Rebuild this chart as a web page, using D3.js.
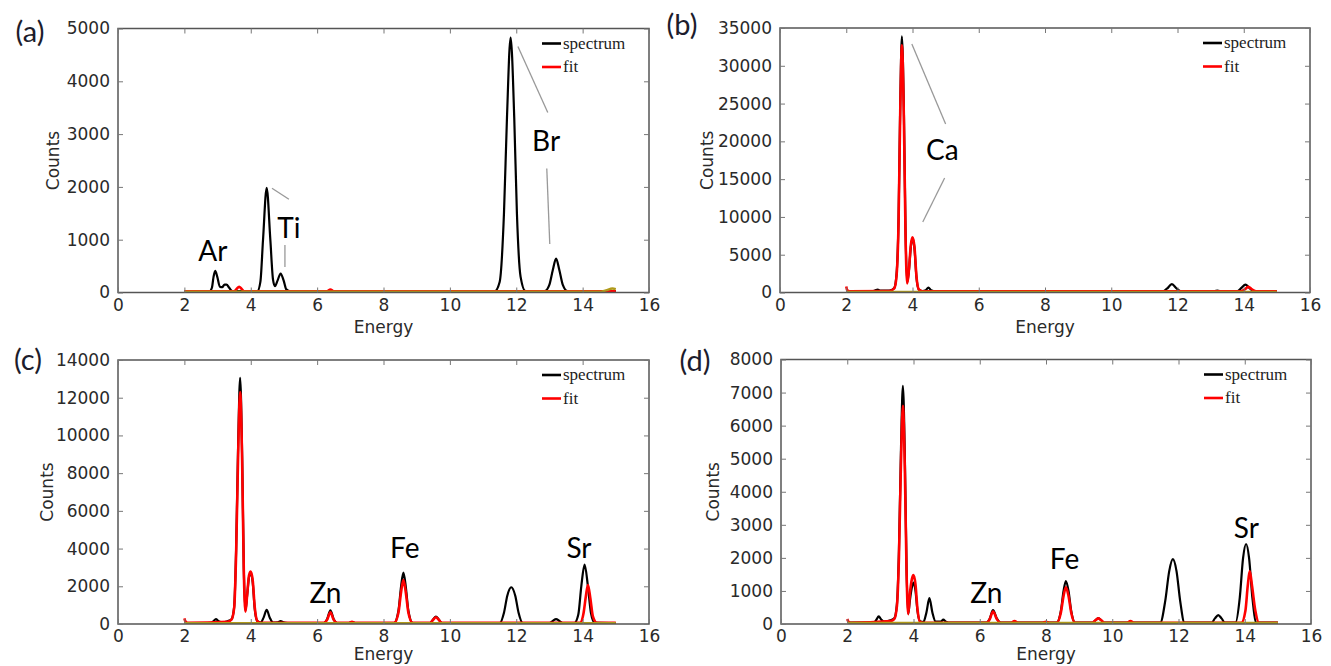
<!DOCTYPE html>
<html>
<head>
<meta charset="utf-8">
<script src="https://cdn.jsdelivr.net/npm/d3@7"></script>
<style>
  html, body { margin: 0; padding: 0; background: #fff; }
  svg { display: block; }
</style>
</head>
<body>
<svg id="chart" width="1331" height="666"></svg>
<script>
// ---------------- DATA ----------------
const energyTicks = [0, 2, 4, 6, 8, 10, 12, 14, 16];
const seriesNames = ["spectrum", "fit"];
const panelLabels = ["(a)", "(b)", "(c)", "(d)"];
const xTitle = "Energy";
const yTitle = "Counts";

const yTicksA = [0, 1000, 2000, 3000, 4000, 5000];
const yTicksB = [0, 5000, 10000, 15000, 20000, 25000, 30000, 35000];
const yTicksC = [0, 2000, 4000, 6000, 8000, 10000, 12000, 14000];
const yTicksD = [0, 1000, 2000, 3000, 4000, 5000, 6000, 7000, 8000];

// panel (a)
const specA = [[2.0,20],[2.75,20],[2.83,90],[2.88,300],[2.93,410],[2.99,300],[3.07,110],[3.14,100],[3.21,150],[3.27,150],[3.35,90],[3.45,25],
  [4.2,25],[4.29,200],[4.37,1000],[4.48,1980],[4.59,1000],[4.67,250],[4.73,120],[4.81,230],[4.9,360],[4.99,230],[5.07,60],[5.17,25],
  [11.35,25],[11.5,200],[11.63,1500],[11.72,3300],[11.83,4830],[11.94,3300],[12.02,1500],[12.13,300],[12.28,25],
  [12.85,25],[13.0,150],[13.1,420],[13.2,640],[13.3,420],[13.4,150],[13.55,25],[15.0,25]];
const fitA = [[2.0,25],[3.5,25],[3.58,70],[3.65,110],[3.72,70],[3.8,25],[6.3,25],[6.4,55],[6.5,25],[15.0,25]];
const bgA = [[2.0,15],[14.5,15],[14.7,40],[14.9,75],[15.0,65]];

// panel (b)
const specB = [[2.0,150],[2.8,150],[2.88,300],[2.95,380],[3.03,250],[3.3,250],[3.45,600],[3.52,2500],[3.58,10000],[3.63,25000],[3.68,33900],[3.74,24000],[3.79,8000],[3.84,1300],[3.89,2800],[3.95,6000],[4.0,7200],[4.06,5800],[4.12,2000],[4.19,400],[4.3,200],[4.4,300],[4.48,650],[4.56,300],[4.7,150],
  [11.55,150],[11.68,500],[11.83,1100],[11.98,500],[12.1,150],[13.05,150],[13.2,250],[13.35,150],[13.8,150],[13.93,600],[14.05,1050],[14.17,600],[14.3,150],[15.0,150]];
const fitB = [[2.0,800],[2.03,300],[2.1,150],[3.3,200],[3.45,550],[3.52,2300],[3.58,9500],[3.63,24000],[3.68,32700],[3.74,23000],[3.79,7500],[3.84,1200],[3.89,2900],[3.95,6300],[4.0,7300],[4.06,6000],[4.12,2100],[4.19,400],[4.3,150],
  [13.9,150],[14.03,400],[14.14,750],[14.25,400],[14.38,150],[15.0,150]];
const bgB = [[2.0,60],[15.0,60]];

// panel (c)
const specC = [[2.0,50],[2.8,50],[2.88,150],[2.95,260],[3.03,150],[3.15,90],[3.3,150],[3.42,250],[3.5,900],[3.56,4000],[3.62,9500],[3.68,13050],[3.74,9000],[3.79,3000],[3.84,700],[3.89,1500],[3.95,2500],[4.0,2700],[4.06,2200],[4.12,800],[4.2,150],[4.3,80],[4.39,350],[4.48,750],[4.57,350],[4.67,80],[4.82,90],[4.9,160],[4.98,90],[5.12,50],
  [6.2,50],[6.3,250],[6.4,720],[6.5,250],[6.6,50],[6.95,50],[7.05,100],[7.15,50],
  [8.32,50],[8.45,700],[8.53,2000],[8.6,2720],[8.67,2000],[8.75,700],[8.88,50],
  [9.4,50],[9.5,250],[9.58,390],[9.66,250],[9.76,50],
  [11.5,50],[11.63,600],[11.73,1500],[11.85,1950],[11.97,1500],[12.07,600],[12.2,50],
  [13.0,50],[13.1,160],[13.2,260],[13.3,160],[13.4,50],
  [13.75,50],[13.87,500],[13.96,2000],[14.06,3150],[14.16,2000],[14.25,600],[14.36,80],[15.0,50]];
const fitC = [[2.0,300],[2.03,150],[2.1,60],[3.3,120],[3.42,230],[3.5,850],[3.56,3800],[3.62,9000],[3.68,12300],[3.74,8700],[3.79,2900],[3.84,650],[3.89,1500],[3.95,2600],[4.0,2780],[4.06,2300],[4.12,900],[4.2,150],[4.3,60],
  [6.2,60],[6.3,220],[6.4,620],[6.5,220],[6.6,60],[6.95,60],[7.05,120],[7.15,60],
  [8.32,60],[8.45,600],[8.53,1700],[8.6,2330],[8.67,1700],[8.75,600],[8.88,60],
  [9.4,60],[9.5,230],[9.58,360],[9.66,230],[9.76,60],
  [13.92,60],[14.03,600],[14.1,1500],[14.16,2070],[14.23,1400],[14.31,400],[14.43,60],[15.0,60]];
const bgC = [[2.0,40],[15.0,40]];

// panel (d)
const specD = [[2.0,40],[2.8,40],[2.88,130],[2.95,230],[3.03,130],[3.12,70],[3.3,110],[3.42,170],[3.5,600],[3.56,2200],[3.62,5200],[3.68,7200],[3.74,5000],[3.79,1700],[3.84,300],[3.89,700],[3.95,1100],[4.0,1250],[4.06,1000],[4.12,400],[4.2,80],[4.3,60],[4.39,350],[4.48,780],[4.57,350],[4.67,70],[4.82,70],[4.9,130],[4.98,70],[5.12,40],
  [6.2,40],[6.3,160],[6.4,420],[6.52,160],[6.63,40],
  [8.32,40],[8.45,400],[8.53,1000],[8.6,1300],[8.68,1000],[8.76,400],[8.88,40],
  [9.4,40],[9.5,120],[9.58,180],[9.66,120],[9.76,40],
  [11.45,40],[11.6,700],[11.72,1600],[11.83,1960],[11.94,1600],[12.05,700],[12.18,40],
  [13.0,40],[13.1,170],[13.2,270],[13.3,170],[13.4,40],
  [13.72,40],[13.85,800],[13.95,2000],[14.04,2420],[14.13,2000],[14.23,800],[14.35,40],[15.0,40]];
const fitD = [[2.0,150],[2.03,80],[2.1,40],[3.3,90],[3.42,150],[3.5,550],[3.56,2000],[3.62,4800],[3.68,6600],[3.74,4600],[3.79,1600],[3.84,300],[3.89,900],[3.95,1350],[4.0,1480],[4.06,1200],[4.12,450],[4.2,60],[4.3,40],
  [6.2,40],[6.3,140],[6.4,380],[6.52,140],[6.63,40],[6.95,40],[7.05,90],[7.15,40],[7.9,40],[8.0,70],[8.1,40],
  [8.32,40],[8.45,350],[8.53,850],[8.6,1110],[8.68,850],[8.76,350],[8.88,40],
  [9.4,40],[9.5,120],[9.58,170],[9.66,120],[9.76,40],[10.45,40],[10.55,90],[10.65,40],
  [13.9,40],[14.02,400],[14.09,1150],[14.15,1600],[14.22,1150],[14.32,400],[14.43,40],[15.0,40]];
const bgD = [[2.0,30],[15.0,30]];

// element labels [text, energy, counts]
const elemA = [["Ar", 2.86, 790], ["Ti", 5.15, 1220], ["Br", 12.9, 2880]];
const elemB = [["Ca", 4.9, 18850]];
const elemC = [["Zn", 6.25, 1650], ["Fe", 8.64, 4030], ["Sr", 13.89, 4030]];
const elemD = [["Zn", 6.2, 940], ["Fe", 8.56, 1970], ["Sr", 14.05, 2900]];

// leader lines [[E1,C1],[E2,C2]]
const leadA = [[[4.64,1975],[5.15,1767]], [[5.03,900],[5.03,482]], [[12.05,4660],[12.95,3410]], [[12.92,2350],[13.01,920]]];
const leadB = [[[3.98,32880],[5.0,22300]], [[4.97,15150],[4.31,9330]]];
const leadC = [];
const leadD = [];

// ---------------- LAYOUT ----------------
const panels = [
  {label: panelLabels[0], lx: -88, ly: 3, left: 118, right: 649, top: 28.5, bottom: 292.5, ymax: 5000, yTicks: yTicksA, spec: specA, fit: fitA, bg: bgA, elems: elemA, leads: leadA, ytOff: 65, xtOff: 40},
  {label: panelLabels[1], lx: -98, ly: -3, left: 780, right: 1310, top: 28, bottom: 292.5, ymax: 35000, yTicks: yTicksB, spec: specB, fit: fitB, bg: bgB, elems: elemB, leads: leadB, ytOff: 73, xtOff: 40},
  {label: panelLabels[2], lx: -90, ly: 0, left: 118, right: 649, top: 360, bottom: 624, ymax: 14000, yTicks: yTicksC, spec: specC, fit: fitC, bg: bgC, elems: elemC, leads: leadC, ytOff: 71, xtOff: 36},
  {label: panelLabels[3], lx: -86, ly: 1, left: 781, right: 1311, top: 359.5, bottom: 624, ymax: 8000, yTicks: yTicksD, spec: specD, fit: fitD, bg: bgD, elems: elemD, leads: leadD, ytOff: 68, xtOff: 36}
];

const svg = d3.select("#chart");
const tickFont = "'DejaVu Sans', sans-serif";

panels.forEach(p => {
  const g = svg.append("g");
  const x = d3.scaleLinear().domain([0, 16]).range([p.left, p.right]);
  const y = d3.scaleLinear().domain([0, p.ymax]).range([p.bottom, p.top]);

  const clipId = "clip" + p.label.replace(/[()]/g, "");
  svg.append("clipPath").attr("id", clipId).append("rect")
    .attr("x", p.left).attr("y", p.top - 2).attr("width", p.right - p.left).attr("height", p.bottom - p.top + 2);

  const line = d3.line().x(d => x(d[0])).y(d => y(d[1])).curve(d3.curveMonotoneX);
  const plot = g.append("g").attr("clip-path", `url(#${clipId})`);

  plot.append("path").datum(p.spec).attr("d", line)
    .attr("fill", "none").attr("stroke", "#000").attr("stroke-width", 2.2).attr("stroke-linejoin", "round");
  plot.append("path").datum(p.fit).attr("d", line)
    .attr("fill", "none").attr("stroke", "#ff0000").attr("stroke-width", 2.6).attr("stroke-linejoin", "round");
  plot.append("path").datum(p.bg).attr("d", line)
    .attr("fill", "none").attr("stroke", "#b09a1a").attr("stroke-width", 2.4);

  // frame
  g.append("rect").attr("x", p.left).attr("y", p.top)
    .attr("width", p.right - p.left).attr("height", p.bottom - p.top)
    .attr("fill", "none").attr("stroke", "#555").attr("stroke-width", 1.5);

  // axes
  const styleAxis = sel => {
    sel.select(".domain").remove();
    sel.selectAll(".tick line").attr("stroke", "#777").attr("stroke-width", 1);
    sel.selectAll(".tick text").attr("fill", "#2a2a2a").style("font-family", tickFont).style("font-size", "17px");
  };
  g.append("g").attr("transform", `translate(0,${p.bottom})`)
    .call(d3.axisBottom(x).tickValues(energyTicks).tickFormat(d3.format("d")).tickSizeInner(-5).tickSizeOuter(0).tickPadding(6))
    .call(styleAxis);
  g.append("g").attr("transform", `translate(0,${p.top})`)
    .call(d3.axisTop(x).tickValues(energyTicks).tickFormat("").tickSizeInner(-5).tickSizeOuter(0))
    .call(styleAxis);
  g.append("g").attr("transform", `translate(${p.left},0)`)
    .call(d3.axisLeft(y).tickValues(p.yTicks).tickFormat(d3.format("d")).tickSizeInner(-5).tickSizeOuter(0).tickPadding(8))
    .call(styleAxis);
  g.append("g").attr("transform", `translate(${p.right},0)`)
    .call(d3.axisRight(y).tickValues(p.yTicks).tickFormat("").tickSizeInner(-5).tickSizeOuter(0))
    .call(styleAxis);

  // axis titles
  g.append("text").attr("x", (p.left + p.right) / 2).attr("y", p.bottom + p.xtOff)
    .attr("text-anchor", "middle").attr("fill", "#2a2a2a")
    .style("font-family", tickFont).style("font-size", "17px").text(xTitle);
  g.append("text")
    .attr("transform", `translate(${p.left - p.ytOff},${(p.top + p.bottom) / 2}) rotate(-90)`)
    .attr("text-anchor", "middle").attr("dy", "0.35em").attr("fill", "#2a2a2a")
    .style("font-family", tickFont).style("font-size", "17px").text(yTitle);

  // panel label
  g.append("text").attr("x", p.left + p.lx).attr("y", p.top + p.ly)
    .attr("text-anchor", "middle").attr("dy", "0.35em").attr("fill", "#1c1c2c")
    .style("font-family", "Lato, sans-serif").style("font-size", "29px").text(p.label);

  // legend
  const lg = g.append("g");
  [["#000", 0], ["#ff0000", 1]].forEach(([c, i]) => {
    const ly = p.top + 15 + i * 23.5;
    lg.append("line").attr("x1", p.right - 107).attr("x2", p.right - 88)
      .attr("y1", ly).attr("y2", ly).attr("stroke", c).attr("stroke-width", 2.6);
    lg.append("text").attr("x", p.right - 86).attr("y", ly).attr("dy", "0.3em")
      .attr("fill", "#222").style("font-family", "'Liberation Serif', 'Times New Roman', serif")
      .style("font-size", "17px").text(seriesNames[i]);
  });

  // leader lines
  p.leads.forEach(l => {
    g.append("line").attr("x1", x(l[0][0])).attr("y1", y(l[0][1]))
      .attr("x2", x(l[1][0])).attr("y2", y(l[1][1]))
      .attr("stroke", "#999").attr("stroke-width", 1.3);
  });

  // element labels
  p.elems.forEach(e => {
    g.append("text").attr("x", x(e[1])).attr("y", y(e[2])).attr("dy", "0.36em")
      .attr("text-anchor", "middle").attr("fill", "#000")
      .style("font-family", "Lato, sans-serif").style("font-size", "28px").text(e[0]);
  });
});
</script>
</body>
</html>
